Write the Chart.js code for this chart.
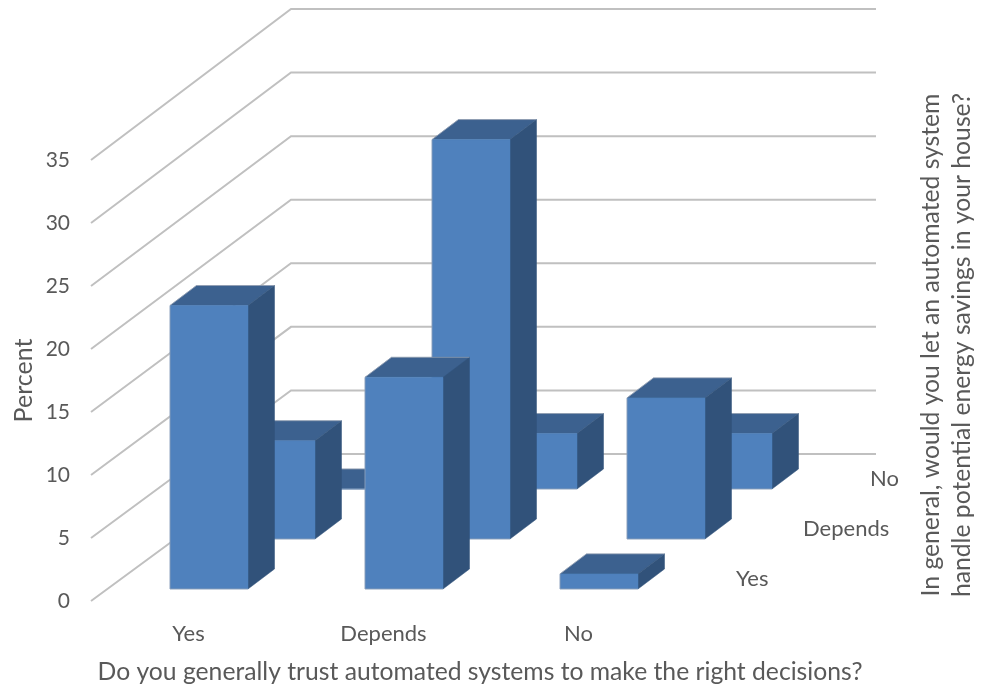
<!DOCTYPE html>
<html>
<head>
<meta charset="utf-8">
<title>Trust in automated systems</title>
<script src="https://cdn.jsdelivr.net/npm/chart.js@4"></script>
<style>
html, body { margin: 0; padding: 0; background: #fff; }
#wrap { position: relative; width: 981px; height: 688px; }
</style>
</head>
<body>
<div id="wrap"><canvas id="chart"></canvas></div>
<script>
var categories = ["Yes", "Depends", "No"];
var depthLabels = ["Yes", "Depends", "No"];
var seriesYes = [22.5, 16.8, 1.2];
var seriesDepends = [7.8, 31.7, 11.2];
var seriesNo = [0, 4.4, 4.4];
var yTicks = [0, 5, 10, 15, 20, 25, 30, 35];
var xTitle = "Do you generally trust automated systems to make the right decisions?";
var yTitle = "Percent";
var depthTitle = ["In general, would you let an automated system", "handle potential energy savings in your house?"];

var textColor = "#595959";
var fontFamily = "Lato, 'Open Sans', sans-serif";

// how far one row steps back, and where the first row sits from the front edge
var rowStep = { x: 67, y: -50 };
var rowStart = { x: 20.5, y: -12 };
var boxDepth = { x: 26.5, y: -20 };
var wallDepth = { x: 200, y: -147 };

function rowOffset(row) {
    return { x: rowStart.x + row * rowStep.x, y: rowStart.y + row * rowStep.y };
}

function tracePoly(ctx, pts) {
    ctx.beginPath();
    ctx.moveTo(pts[0][0], pts[0][1]);
    for (var i = 1; i < pts.length; i++) ctx.lineTo(pts[i][0], pts[i][1]);
}

function fillPoly(ctx, pts, color) {
    tracePoly(ctx, pts);
    ctx.closePath();
    ctx.fillStyle = color;
    ctx.fill();
    ctx.lineWidth = 0.5;
    ctx.strokeStyle = color;
    ctx.stroke();
}

var box3d = {
    id: "box3d",
    // gridlines run up the side wall and then across the back wall
    beforeDatasetsDraw: function (chart) {
        var ctx = chart.ctx, y = chart.scales.y, area = chart.chartArea;
        ctx.save();
        ctx.strokeStyle = "#c0c0c0";
        ctx.lineWidth = 2;
        yTicks.forEach(function (t) {
            var py = y.getPixelForValue(t);
            // back wall is a touch taller than the front edge
            var back = py + wallDepth.y - (t / 35) * 4;
            ctx.beginPath();
            ctx.moveTo(area.left, py);
            ctx.lineTo(area.left + wallDepth.x, back);
            ctx.lineTo(area.right + wallDepth.x, back);
            ctx.stroke();
        });
        ctx.restore();
    },
    // replaces the flat bar with a front, top and side face
    beforeDatasetDraw: function (chart, args) {
        var ctx = chart.ctx, off = rowOffset(args.index);
        ctx.save();
        args.meta.data.forEach(function (el) {
            var l = el.x - el.width / 2 + off.x, r = el.x + el.width / 2 + off.x;
            var t = el.y + off.y, b = el.base + off.y;
            var dx = boxDepth.x, dy = boxDepth.y;
            fillPoly(ctx, [[l, t], [r, t], [r + dx, t + dy], [l + dx, t + dy]], "#3c618f");
            fillPoly(ctx, [[r, t], [r + dx, t + dy], [r + dx, b + dy], [r, b]], "#31527a");
            fillPoly(ctx, [[l, t], [r, t], [r, b], [l, b]], "#4f81bd");
            // soft grey outline on the left, bottom and top edges only
            tracePoly(ctx, [[r, b], [l, b], [l, t], [l + dx, t + dy], [r + dx, t + dy]]);
            ctx.lineWidth = 1;
            ctx.strokeStyle = "rgba(170,175,185,.6)";
            ctx.stroke();
        });
        ctx.restore();
        return false;
    },
    afterDatasetsDraw: function (chart) {
        var ctx = chart.ctx, y = chart.scales.y, area = chart.chartArea;
        ctx.save();
        ctx.fillStyle = textColor;
        ctx.textBaseline = "middle";
        ctx.textAlign = "left";
        ctx.font = "22px " + fontFamily;
        depthLabels.forEach(function (lab, row) {
            var off = rowOffset(row);
            ctx.fillText(lab, area.right + 60 + row * rowStep.x, y.getPixelForValue(0) + off.y - 10);
        });
        ctx.font = "24.7px " + fontFamily;
        ctx.textAlign = "center";
        ctx.fillText(xTitle, 480, 672);
        depthTitle.forEach(function (line, i) {
            ctx.save();
            ctx.translate(931 + i * 31, 345);
            ctx.rotate(-Math.PI / 2);
            ctx.fillText(line, 0, 0);
            ctx.restore();
        });
        ctx.restore();
    }
};

new Chart(document.getElementById("chart"), {
    type: "bar",
    data: {
        labels: categories,
        datasets: [
            { label: depthLabels[0], data: seriesYes },
            { label: depthLabels[1], data: seriesDepends },
            { label: depthLabels[2], data: seriesNo }
        ]
    },
    plugins: [box3d],
    options: {
        responsive: true,
        maintainAspectRatio: false,
        animation: false,
        grouped: false,
        barPercentage: 0.4,
        categoryPercentage: 1,
        layout: { padding: { top: 160, right: 305, left: 0, bottom: 0 } },
        plugins: { legend: { display: false }, tooltip: { enabled: false } },
        scales: {
            x: {
                grid: { display: false, drawTicks: false },
                border: { display: false },
                ticks: { color: textColor, font: { family: fontFamily, size: 22 }, padding: 20, maxRotation: 0 },
                afterFit: function (s) { s.height = 87; }
            },
            y: {
                min: 0,
                max: 35,
                grid: { display: false, drawTicks: false },
                border: { display: false },
                afterBuildTicks: function (s) { s.ticks = yTicks.map(function (v) { return { value: v }; }); },
                ticks: { color: textColor, font: { family: fontFamily, size: 21 }, padding: 21 },
                title: { display: true, text: yTitle, color: textColor, font: { family: fontFamily, size: 25 }, padding: { top: 9, bottom: 0 } },
                afterFit: function (s) { s.width = 91; }
            }
        }
    }
});
</script>
</body>
</html>
